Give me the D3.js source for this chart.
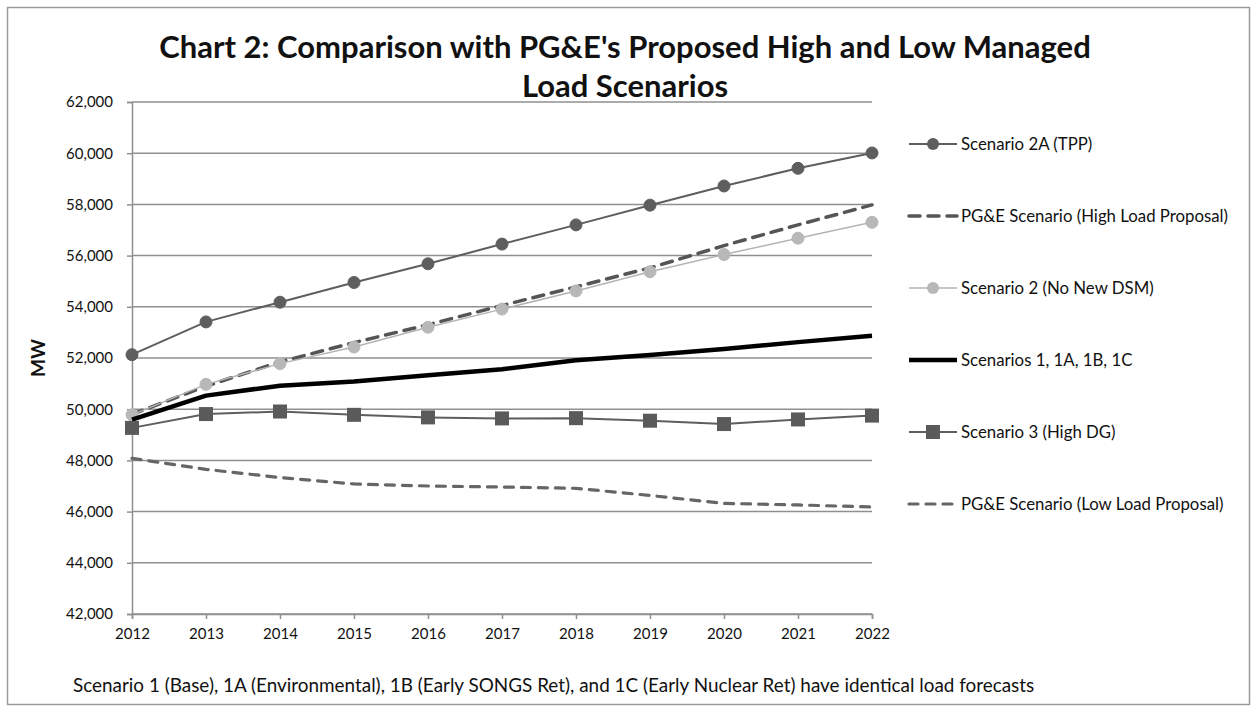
<!DOCTYPE html>
<html>
<head>
<meta charset="utf-8">
<script src="https://cdn.jsdelivr.net/npm/d3@7"></script>
<style>
  html, body { margin: 0; padding: 0; background: #fff; }
  svg { display: block; }
  text { font-family: Lato, "Open Sans", sans-serif; fill: #111; }
</style>
</head>
<body>
<svg id="chart" width="1256" height="712"></svg>
<script>
// ---- Data ----
const years = [2012, 2013, 2014, 2015, 2016, 2017, 2018, 2019, 2020, 2021, 2022];
const scenario2A = [52130, 53410, 54180, 54950, 55680, 56450, 57200, 57970, 58720, 59410, 60010];
const pgeHigh    = [49800, 50900, 51850, 52600, 53300, 54050, 54780, 55520, 56390, 57200, 57980];
const scenario2  = [49780, 50970, 51780, 52430, 53200, 53910, 54620, 55370, 56040, 56680, 57300];
const scenario1  = [49590, 50530, 50920, 51080, 51330, 51560, 51910, 52120, 52350, 52620, 52870];
const scenario3  = [49270, 49810, 49910, 49780, 49680, 49640, 49650, 49550, 49420, 49600, 49750];
const pgeLow     = [48080, 47650, 47330, 47080, 47000, 46960, 46910, 46630, 46320, 46260, 46180];
const seriesNames = [
  "Scenario 2A (TPP)",
  "PG&E Scenario (High Load Proposal)",
  "Scenario 2 (No New DSM)",
  "Scenarios 1, 1A, 1B, 1C",
  "Scenario 3 (High DG)",
  "PG&E Scenario (Low Load Proposal)"
];
const yTicks = [42000, 44000, 46000, 48000, 50000, 52000, 54000, 56000, 58000, 60000, 62000];
const titleLines = ["Chart 2: Comparison with PG&E's Proposed High and Low Managed", "Load Scenarios"];
const yAxisTitle = "MW";
const footNote = "Scenario 1 (Base), 1A (Environmental), 1B (Early SONGS Ret), and 1C (Early Nuclear Ret) have identical load forecasts";

// ---- Styles ----
const styles = [
  { values: scenario2A, color: "#5e5e5e", width: 2,   dash: null,   marker: "circle", mfill: "#5e5e5e" },
  { values: pgeHigh,    color: "#555555", width: 3.5, dash: "11,8", marker: null },
  { values: scenario2,  color: "#b4b4b4", width: 1.5, dash: null,   marker: "circle", mfill: "#b8b8b8" },
  { values: scenario1,  color: "#000000", width: 4.5, dash: null,   marker: null },
  { values: scenario3,  color: "#5e5e5e", width: 2,   dash: null,   marker: "square", mfill: "#5a5a5a" },
  { values: pgeLow,     color: "#666666", width: 3.2, dash: "9,8",  marker: null }
];

const svg = d3.select("#chart");
const gridColor = "#8f8f8f";

// Outer border
svg.append("rect").attr("x", 7.5).attr("y", 7.5).attr("width", 1242).attr("height", 697)
  .attr("fill", "none").attr("stroke", "#9a9a9a").attr("stroke-width", 1.5);

// Title
svg.append("g").selectAll("text").data(titleLines).join("text")
  .attr("x", 625).attr("y", (d, i) => 58 + i * 39)
  .attr("text-anchor", "middle")
  .style("font-size", "31px").style("font-weight", "bold")
  .text(d => d);

const x = d3.scaleLinear().domain([2012, 2022]).range([132, 872]);
const y = d3.scaleLinear().domain([42000, 62000]).range([614, 102]);

// Gridlines
svg.append("g").selectAll("line").data(yTicks).join("line")
  .attr("x1", x(2012)).attr("x2", x(2022))
  .attr("y1", d => y(d)).attr("y2", d => y(d))
  .attr("stroke", gridColor).attr("stroke-width", 1.5);

// Y axis
const yAxis = d3.axisLeft(y).tickValues(yTicks).tickFormat(d3.format(",")).tickSize(5).tickPadding(14);
const gy = svg.append("g").attr("transform", `translate(${x(2012)},0)`).call(yAxis);
gy.select(".domain").attr("stroke", gridColor).attr("stroke-width", 1.5);
gy.selectAll(".tick line").attr("stroke", gridColor).attr("stroke-width", 1.5);
gy.selectAll("text").style("font-size", "15px").style("font-family", "Lato, sans-serif").attr("fill", "#111");

// X axis
const xAxis = d3.axisBottom(x).tickValues(years).tickFormat(d3.format("d")).tickSize(5).tickPadding(9);
const gx = svg.append("g").attr("transform", `translate(0,${y(42000)})`).call(xAxis);
gx.select(".domain").attr("stroke", gridColor).attr("stroke-width", 1.5);
gx.selectAll(".tick line").attr("stroke", gridColor).attr("stroke-width", 1.5);
gx.selectAll("text").style("font-size", "15px").style("font-family", "Lato, sans-serif").attr("fill", "#111");

// Y axis title
svg.append("text").attr("transform", "translate(45,358) rotate(-90)")
  .attr("text-anchor", "middle").style("font-size", "19px").style("font-weight", "bold")
  .text(yAxisTitle);

// Series
const line = d3.line().x((d, i) => x(years[i])).y(d => y(d));
styles.forEach((s, si) => {
  const g = svg.append("g");
  g.append("path").datum(s.values).attr("d", line)
    .attr("fill", "none").attr("stroke", s.color).attr("stroke-width", s.width)
    .attr("stroke-dasharray", s.dash).attr("stroke-linecap", s.dash ? "round" : "butt")
    .attr("stroke-linejoin", "round");
  if (s.marker === "circle") {
    g.selectAll("circle").data(s.values).join("circle")
      .attr("cx", (d, i) => x(years[i])).attr("cy", d => y(d)).attr("r", 6)
      .attr("fill", s.mfill).attr("stroke", s.mfill).attr("stroke-width", 1);
  } else if (s.marker === "square") {
    g.selectAll("rect").data(s.values).join("rect")
      .attr("x", (d, i) => x(years[i]) - 7).attr("y", d => y(d) - 7)
      .attr("width", 14).attr("height", 14).attr("fill", s.mfill);
  }
});

// Legend
const legend = svg.append("g");
seriesNames.forEach((name, i) => {
  const s = styles[i];
  const ly = 144 + i * 72;
  const g = legend.append("g");
  g.append("line").attr("x1", 909).attr("x2", 957).attr("y1", ly).attr("y2", ly)
    .attr("stroke", s.color).attr("stroke-width", s.width)
    .attr("stroke-dasharray", s.dash).attr("stroke-linecap", s.dash ? "round" : "butt");
  if (s.marker === "circle") {
    g.append("circle").attr("cx", 933).attr("cy", ly).attr("r", 6).attr("fill", s.mfill);
  } else if (s.marker === "square") {
    g.append("rect").attr("x", 926).attr("y", ly - 7).attr("width", 14).attr("height", 14).attr("fill", s.mfill);
  }
  g.append("text").attr("x", 961).attr("y", ly + 6).style("font-size", "16.8px").text(name);
});

// Footnote
svg.append("text").attr("x", 73).attr("y", 692).style("font-size", "18.9px").text(footNote);
</script>
</body>
</html>
